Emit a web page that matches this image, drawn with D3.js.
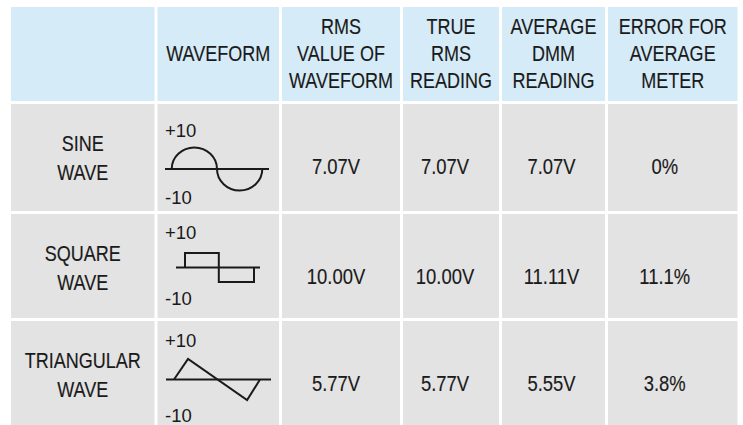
<!DOCTYPE html>
<html>
<head>
<meta charset="utf-8">
<script src="https://cdn.jsdelivr.net/npm/d3@7"></script>
<style>
  html, body { margin: 0; padding: 0; background: #ffffff; overflow: hidden; }
  svg { display: block; }
</style>
</head>
<body>
<svg id="chart" width="743" height="425"></svg>
<script>
// ---------------- DATA ----------------
const columns = [
  "",
  "WAVEFORM",
  "RMS\nVALUE OF\nWAVEFORM",
  "TRUE\nRMS\nREADING",
  "AVERAGE\nDMM\nREADING",
  "ERROR FOR\nAVERAGE\nMETER"
];
const waveNames = ["SINE\nWAVE", "SQUARE\nWAVE", "TRIANGULAR\nWAVE"];
const rmsValue   = ["7.07V", "10.00V", "5.77V"];
const trueRms    = ["7.07V", "10.00V", "5.77V"];
const averageDmm = ["7.07V", "11.11V", "5.55V"];
const errorAvg   = ["0%", "11.1%", "3.8%"];
const peakLabels = ["+10", "-10"];
const peakVolts  = [10, -10];
// waveform vertices: [time (fraction of period), volts]
const squareWave   = [[0, 0], [0, 10], [0.49, 10], [0.49, -10], [1, -10], [1, 0]];
const triangleWave = [[0, 0], [0.163, 10], [0.85, -10], [1, 0]];
// sine drawn as two half-cycles: [start, middle, end] times
const sineHalves   = [0, 0.5, 1];

// ---------------- LAYOUT ----------------
const svg = d3.select("#chart");
const headerFill = "#d5ebf8";
const bodyFill = "#e3e3e3";
const ink = "#1a1a1a";

const colEdges = [11, 156, 280.5, 401.5, 500.5, 606.5, 737.5];
const rowEdges = [7, 102.5, 212.5, 319.5, 442];
const gap = 3;

function fontAvailable(name) {
  const c = document.createElement("canvas").getContext("2d");
  c.font = "40px monospace";
  const a = c.measureText("WAVEFORM READING 10.00V").width;
  c.font = `40px "${name}", monospace`;
  const b = c.measureText("WAVEFORM READING 10.00V").width;
  return Math.abs(a - b) > 0.5;
}
const hasNarrow = fontAvailable("Liberation Sans Narrow");
const condFamily = hasNarrow ? "'Liberation Sans Narrow', 'Arial Narrow', sans-serif" : "'Liberation Sans', Arial, sans-serif";
const condScale = hasNarrow ? 1 : 0.82;

function colRange(i) { return [colEdges[i] + (i === 0 ? 0 : gap / 2), colEdges[i + 1] - (i === columns.length - 1 ? 0 : gap / 2)]; }
function rowRange(j) { return [rowEdges[j] + (j === 0 ? 0 : gap / 2), rowEdges[j + 1] - gap / 2]; }

for (let j = 0; j < 4; j++) {
  for (let i = 0; i < columns.length; i++) {
    const [x0, x1] = colRange(i), [y0, y1] = rowRange(j);
    svg.append("rect")
      .attr("x", x0).attr("y", y0)
      .attr("width", x1 - x0).attr("height", y1 - y0)
      .attr("fill", j === 0 ? headerFill : bodyFill);
  }
}

function condText(cx, cy, str, size, lh) {
  const lines = str.split("\n");
  const g = svg.append("g").attr("transform", `translate(${cx},0) scale(${condScale},1)`);
  const n = lines.length;
  lines.forEach((ln, k) => {
    const baseline = cy + (k - (n - 1) / 2) * lh + size * 0.36;
    g.append("text")
      .attr("x", 0).attr("y", baseline)
      .attr("text-anchor", "middle")
      .attr("font-family", condFamily)
      .attr("font-size", size)
      .attr("fill", ink)
      .attr("stroke", ink)
      .attr("stroke-width", hasNarrow ? 0.05 : 0.15)
      .text(ln);
  });
}

columns.forEach((c, i) => {
  if (!c) return;
  const [x0, x1] = colRange(i), [y0, y1] = rowRange(0);
  condText((x0 + x1) / 2, (y0 + y1) / 2 - 0.5, c, 22, 27);
});

waveNames.forEach((nm, j) => {
  const [x0, x1] = colRange(0), [y0] = rowRange(j + 1);
  condText((x0 + x1) / 2, y0 + 53.5, nm, 22, 29);
});

const valueCols = [rmsValue, trueRms, averageDmm, errorAvg];
const valueDx = [-5, -6, -2, -8];
valueCols.forEach((arr, k) => {
  const i = k + 2;
  const [x0, x1] = colRange(i);
  arr.forEach((v, j) => {
    const [y0] = rowRange(j + 1);
    condText((x0 + x1) / 2 + valueDx[k], y0 + 61.5, v, 22.5, 27);
  });
});

const icons = [
  { axisY: 169, amp: 21.5, t0: 171.7, t1: 262.3, ax0: 165, ax1: 269, plusY: 137, minusY: 203.5 },
  { axisY: 267.5, amp: 14.5, t0: 185, t1: 254, ax0: 176, ax1: 260, plusY: 239, minusY: 305 },
  { axisY: 379.5, amp: 20.5, t0: 174, t1: 260, ax0: 166, ax1: 271, plusY: 347, minusY: 422 }
];
icons.forEach((ic, j) => {
  const xs = d3.scaleLinear().domain([0, 1]).range([ic.t0, ic.t1]);
  const ys = d3.scaleLinear().domain([-10, 10]).range([ic.axisY + ic.amp, ic.axisY - ic.amp]);
  const g = svg.append("g");
  g.append("line")
    .attr("x1", ic.ax0).attr("x2", ic.ax1)
    .attr("y1", ys(0)).attr("y2", ys(0))
    .attr("stroke", ink).attr("stroke-width", 2);
  let d;
  if (j === 0) {
    const xa = xs(sineHalves[0]), xm = xs(sineHalves[1]), xb = xs(sineHalves[2]);
    const rx1 = (xm - xa) / 2, rx2 = (xb - xm) / 2;
    const ry = ys(0) - ys(peakVolts[0]);
    d = `M${xa},${ys(0)} A${rx1},${ry} 0 0 1 ${xm},${ys(0)} A${rx2},${ry} 0 0 0 ${xb},${ys(0)}`;
  } else {
    const pts = j === 1 ? squareWave : triangleWave;
    d = d3.line().x(p => xs(p[0])).y(p => ys(p[1]))(pts);
  }
  g.append("path").attr("d", d)
    .attr("fill", "none").attr("stroke", ink).attr("stroke-width", 2)
    .attr("stroke-linejoin", "miter");
  [ic.plusY, ic.minusY].forEach((by, k) => {
    g.append("text")
      .attr("x", 165).attr("y", by)
      .attr("font-family", "'Liberation Sans', Arial, sans-serif")
      .attr("font-size", 18.5)
      .attr("fill", ink)
      .text(peakLabels[k]);
  });
});
</script>
</body>
</html>
